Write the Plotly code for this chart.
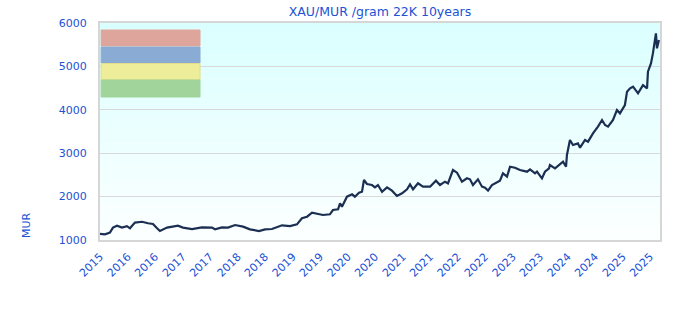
import plotly.graph_objects as go

# ---- data ----
dates = [
    "2015-07-01", "2015-08-03", "2015-09-05", "2015-09-25", "2015-10-22", "2015-11-24",
    "2015-12-27", "2016-01-16", "2016-02-18", "2016-04-05", "2016-05-15", "2016-06-17",
    "2016-07-14", "2016-08-02", "2016-09-18", "2016-10-21", "2016-11-30", "2017-01-02",
    "2017-03-03", "2017-05-08", "2017-07-14", "2017-08-03", "2017-09-18", "2017-10-28",
    "2017-12-14", "2018-02-05", "2018-03-23", "2018-05-22", "2018-07-01", "2018-08-16",
    "2018-10-22", "2018-12-14", "2019-01-29", "2019-03-03", "2019-04-06", "2019-05-09",
    "2019-06-11", "2019-07-21", "2019-09-05", "2019-09-25", "2019-10-29", "2019-11-11",
    "2019-11-24", "2019-12-07", "2019-12-27", "2020-01-30", "2020-02-18", "2020-03-16",
    "2020-04-05", "2020-04-18", "2020-05-08", "2020-06-10", "2020-06-30", "2020-07-20",
    "2020-08-16", "2020-09-18", "2020-10-21", "2020-11-23", "2020-12-27", "2021-01-29",
    "2021-02-18", "2021-03-10", "2021-04-12", "2021-05-15", "2021-07-01", "2021-08-09",
    "2021-09-05", "2021-10-08", "2021-10-28", "2021-11-30", "2021-12-27", "2022-01-29",
    "2022-03-03", "2022-03-23", "2022-04-12", "2022-05-15", "2022-06-11", "2022-07-01",
    "2022-07-21", "2022-08-16", "2022-09-18", "2022-10-08", "2022-10-28", "2022-11-24",
    "2022-12-14", "2023-01-16", "2023-02-18", "2023-04-06", "2023-04-26", "2023-05-29",
    "2023-06-11", "2023-07-14", "2023-08-03", "2023-08-30", "2023-09-05", "2023-10-09",
    "2023-12-01", "2023-12-21", "2023-12-27", "2024-01-16", "2024-02-05", "2024-03-09",
    "2024-03-23", "2024-04-25", "2024-05-15", "2024-06-17", "2024-07-20", "2024-08-16",
    "2024-09-05", "2024-09-25", "2024-10-28", "2024-11-23", "2024-12-13", "2025-01-15",
    "2025-01-29", "2025-02-18", "2025-03-10", "2025-04-12", "2025-05-15", "2025-06-11",
    "2025-06-17", "2025-07-07", "2025-07-20", "2025-08-09", "2025-08-16", "2025-08-29",
]
prices = [
    1140, 1130, 1170, 1285, 1330, 1285,
    1320, 1270, 1400, 1420, 1385, 1370,
    1270, 1207, 1285, 1307, 1330, 1285,
    1253, 1292, 1285, 1246, 1292, 1285,
    1345, 1307, 1246, 1207, 1246, 1253,
    1338, 1322, 1361, 1500, 1537, 1630,
    1600, 1576, 1592, 1691, 1707, 1845,
    1768, 1860, 1998, 2053, 1998, 2090,
    2113, 2382, 2290, 2267, 2214, 2267,
    2113, 2214, 2137, 2014, 2076, 2168,
    2283, 2168, 2306, 2229, 2229, 2367,
    2267, 2344, 2306, 2613, 2551, 2344,
    2421, 2398, 2267, 2398, 2229, 2206,
    2137, 2267, 2329, 2367, 2536, 2459,
    2689, 2666, 2613, 2574, 2628, 2536,
    2574, 2421, 2574, 2651, 2728, 2651,
    2804, 2689, 2958, 3304, 3189, 3227,
    3127, 3304, 3266, 3458, 3611, 3765,
    3650, 3611, 3765, 3995, 3918, 4110,
    4417, 4495, 4532, 4380, 4570, 4495,
    4878, 5070, 5300, 5762, 5417, 5608,
]

tick_dates = [
    "2015-07-01", "2016-01-01", "2016-07-01", "2017-01-01", "2017-07-01",
    "2018-01-01", "2018-07-01", "2019-01-01", "2019-07-01", "2020-01-01",
    "2020-07-01", "2021-01-01", "2021-07-01", "2022-01-01", "2022-07-01",
    "2023-01-01", "2023-07-01", "2024-01-01", "2024-07-01", "2025-01-01",
    "2025-07-01",
]
tick_labels = [
    "2015", "2016", "2016", "2017", "2017", "2018", "2018", "2019", "2019", "2020",
    "2020", "2021", "2021", "2022", "2022", "2023", "2023", "2024", "2024", "2025",
    "2025",
]
y_ticks = [1000, 2000, 3000, 4000, 5000, 6000]

legend_colors = ["#dea59d", "#8aabd4", "#eeed99", "#a0d49a"]
legend_borders = ["#dea59d", "#8aabd4", "#e2dd86", "#a0d49a"]

BLUE = "#2152d4"
FONT = "DejaVu Sans"

fig = go.Figure()
fig.add_trace(go.Scatter(
    x=dates, y=prices, mode="lines",
    line=dict(color="#1a2f52", width=2.2),
    showlegend=False, hoverinfo="skip",
))

shapes = []
# vertical background gradient: light cyan at top to almost white at bottom
n = 40
top = (218, 255, 255)
bot = (252, 255, 255)
for i in range(n):
    f = i / (n - 1)
    c = tuple(round(top[k] + (bot[k] - top[k]) * f) for k in range(3))
    shapes.append(dict(
        type="rect", xref="paper", yref="paper",
        x0=0, x1=1, y0=1 - (i + 1) / n, y1=1 - i / n + 0.001,
        fillcolor=f"rgb{c}", line=dict(width=0), layer="below",
    ))

# colour boxes at the top-left (legend swatches of the original chart)
box_y = [(0.894, 0.9677), (0.816, 0.889), (0.7373, 0.813), (0.659, 0.7373)]
for col, bcol, (y0, y1) in zip(legend_colors, legend_borders, box_y):
    shapes.append(dict(
        type="rect", xref="paper", yref="paper",
        x0=0.002, x1=0.1786, y0=y0, y1=y1,
        fillcolor=col, line=dict(width=1, color=bcol), layer="above",
    ))

fig.update_layout(
    width=680, height=320,
    margin=dict(l=100, r=20, t=23, b=80),
    paper_bgcolor="white",
    plot_bgcolor="white",
    font=dict(family=FONT, color=BLUE, size=11),
    title=dict(
        text="XAU/MUR /gram 22K 10years",
        x=0.5, xref="paper", y=0.965, yref="container",
        xanchor="center", yanchor="middle",
        font=dict(family=FONT, size=12.5, color=BLUE),
    ),
    shapes=shapes,
    annotations=[dict(
        text="MUR", xref="paper", yref="paper", x=-0.13, y=0.07,
        showarrow=False, textangle=-90, font=dict(family=FONT, size=11, color=BLUE),
        xanchor="center", yanchor="middle",
    )],
    showlegend=False,
)

fig.update_xaxes(
    type="date",
    range=["2015-07-01", "2025-09-05"],
    tickmode="array", tickvals=tick_dates, ticktext=tick_labels,
    tickangle=-45, tickfont=dict(family=FONT, size=11, color=BLUE),
    showgrid=False, zeroline=False,
    showline=True, linecolor="#d6d6d6", linewidth=2, mirror=True,
    ticks="", ticklabelstandoff=4,
)
fig.update_yaxes(
    range=[1000, 6000],
    tickmode="array", tickvals=y_ticks,
    tickfont=dict(family=FONT, size=11, color=BLUE),
    showgrid=True, gridcolor="#d9d9d9", gridwidth=1,
    zeroline=False,
    showline=True, linecolor="#d6d6d6", linewidth=2, mirror=True,
    ticks="", ticklabelstandoff=9,
)

fig.write_html("out.html")
